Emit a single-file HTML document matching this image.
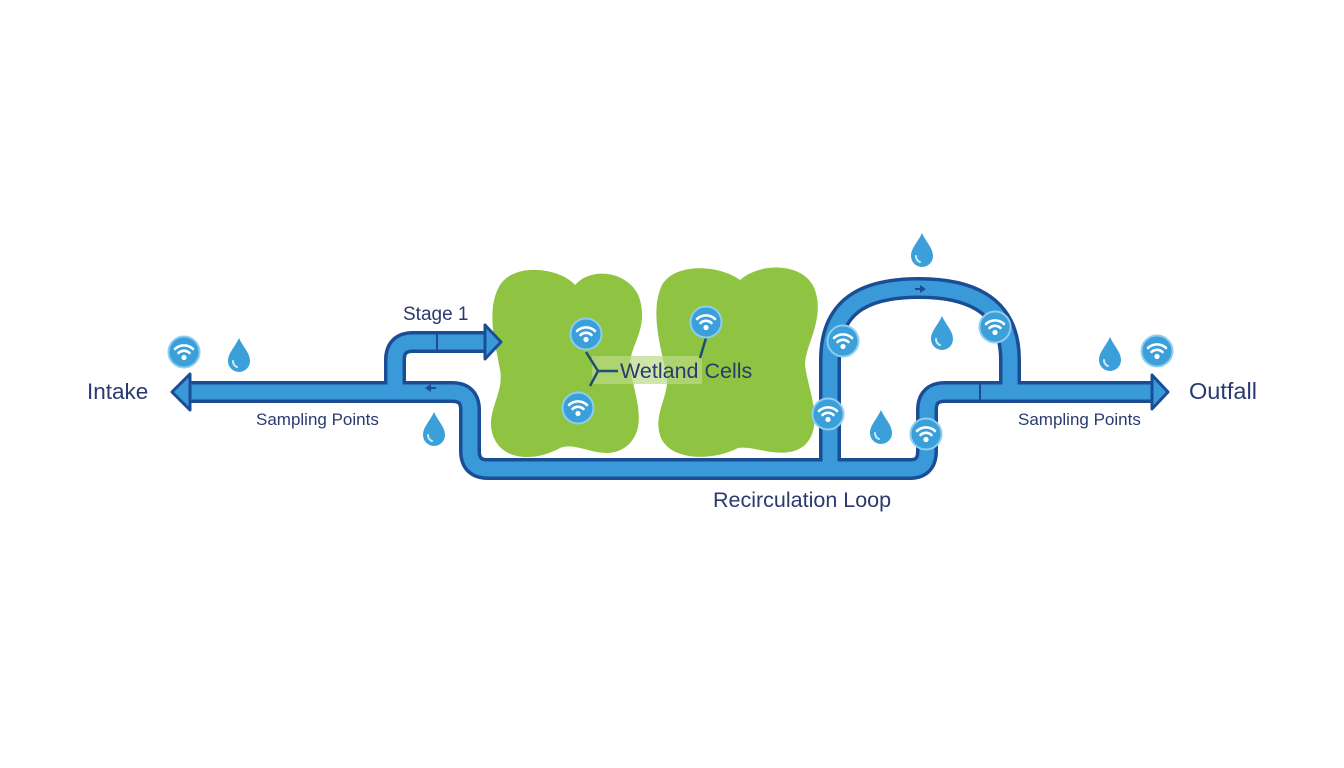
<!DOCTYPE html>
<html><head><meta charset="utf-8"><style>
html,body{margin:0;padding:0;background:#fff;}
svg{display:block;}
text{font-family:"Liberation Sans","DejaVu Sans",sans-serif;fill:#2a3a6e;}
</style></head><body>
<svg width="1344" height="768" viewBox="0 0 1344 768" xmlns="http://www.w3.org/2000/svg">
<defs>
<g id="wf">
<circle r="15.5" fill="#3b9fd9" stroke="#8ccdf0" stroke-width="2"/>
<path d="M-9,-3 A13,13 0 0 1 9,-3" fill="none" stroke="#fff" stroke-width="2.6" stroke-linecap="round"/>
<path d="M-5.5,1 A8,8 0 0 1 5.5,1" fill="none" stroke="#fff" stroke-width="2.6" stroke-linecap="round"/>
<circle cy="5.5" r="2.6" fill="#fff"/>
</g>
<g id="dr">
<path d="M0,-17 C4,-8 11,-2 11,6 A11,11 0 0 1 -11,6 C-11,-2 -4,-8 0,-17 Z" fill="#3b9fd9"/>
<path d="M-6,6 A6,6 0 0 0 -2,12" fill="none" stroke="#cfeaf8" stroke-width="2" stroke-linecap="round"/>
</g>
</defs>

<!-- wetland blobs -->
<path d="M500,285 C515,262 560,268 575,285 C592,265 632,272 640,300 C648,330 630,345 630,365 C632,390 650,425 628,445 C605,465 578,440 560,448 C535,462 505,460 495,440 C482,415 505,395 500,370 C496,345 485,310 500,285 Z" fill="#8fc442"/>
<path d="M662,285 C675,262 720,265 740,280 C760,262 805,262 815,290 C825,320 805,345 805,365 C808,390 825,425 805,445 C785,462 755,445 738,448 C715,460 675,462 662,440 C650,415 672,395 666,372 C660,345 650,310 662,285 Z" fill="#8fc442"/>

<!-- pipes outline -->
<g fill="none" stroke="#1b4d95" stroke-width="22" stroke-linejoin="round">
<path d="M185,392 H395"/>
<path d="M395,392 V360 Q395,342 413,342 H488"/>
<path d="M395,392 H452 Q470,392 470,410 V451 Q470,469 488,469 H910 Q927,469 927,451 V410 Q927,392 945,392 H1155"/>
<path d="M830,469 V360 C830,300 873,288 919,288 C963,288 1010,300 1010,360 V392"/>
</g>
<g fill="none" stroke="#3a9ad9" stroke-width="15" stroke-linejoin="round">
<path d="M185,392 H395"/>
<path d="M395,392 V360 Q395,342 413,342 H488"/>
<path d="M395,392 H452 Q470,392 470,410 V451 Q470,469 488,469 H910 Q927,469 927,451 V410 Q927,392 945,392 H1155"/>
<path d="M830,469 V360 C830,300 873,288 919,288 C963,288 1010,300 1010,360 V392"/>
</g>
<!-- arrowheads -->
<path d="M172,392 L190,374 L190,410 Z" fill="#3a9ad9" stroke="#1b4d95" stroke-width="3" stroke-linejoin="round"/>
<path d="M501,342 L485,325 L485,359 Z" fill="#3a9ad9" stroke="#1b4d95" stroke-width="3" stroke-linejoin="round"/>
<path d="M1168,392 L1152,375 L1152,409 Z" fill="#3a9ad9" stroke="#1b4d95" stroke-width="3" stroke-linejoin="round"/>
<!-- seams / small arrows -->
<line x1="437" y1="333" x2="437" y2="350" stroke="#1b4d95" stroke-width="2"/>
<line x1="980" y1="383" x2="980" y2="400" stroke="#1b4d95" stroke-width="2"/>
<path d="M425,388 l6,-4 v3 h5 v2 h-5 v3 z" fill="#1b4d95"/>
<path d="M926,289 l-6,-4 v3 h-5 v2 h5 v3 z" fill="#1b4d95"/>

<!-- wetland label connectors -->
<rect x="592" y="356" width="110" height="28" fill="#b9dc84" opacity="0.7"/>
<path d="M586,352 L598,371 L590,386 M598,371 H618" fill="none" stroke="#1e4f6e" stroke-width="2.5"/>
<path d="M706,338 L700,358" fill="none" stroke="#1e4f6e" stroke-width="2.5"/>

<!-- icons -->
<use href="#wf" x="184" y="352"/>
<use href="#wf" x="586" y="334"/>
<use href="#wf" x="578" y="408"/>
<use href="#wf" x="706" y="322"/>
<use href="#wf" x="843" y="341"/>
<use href="#wf" x="995" y="327"/>
<use href="#wf" x="828" y="414"/>
<use href="#wf" x="926" y="434"/>
<use href="#wf" x="1157" y="351"/>
<use href="#dr" x="239" y="355"/>
<use href="#dr" x="434" y="429"/>
<use href="#dr" x="922" y="250"/>
<use href="#dr" x="942" y="333"/>
<use href="#dr" x="881" y="427"/>
<use href="#dr" x="1110" y="354"/>

<!-- labels -->
<text x="87" y="399" font-size="22.5">Intake</text>
<text x="1189" y="399" font-size="23.5">Outfall</text>
<text x="403" y="320" font-size="19">Stage 1</text>
<text x="256" y="425" font-size="17">Sampling Points</text>
<text x="1018" y="425" font-size="17">Sampling Points</text>
<text x="620" y="378" font-size="21.5">Wetland Cells</text>
<text x="713" y="507" font-size="21.5">Recirculation Loop</text>
</svg>
</body></html>
